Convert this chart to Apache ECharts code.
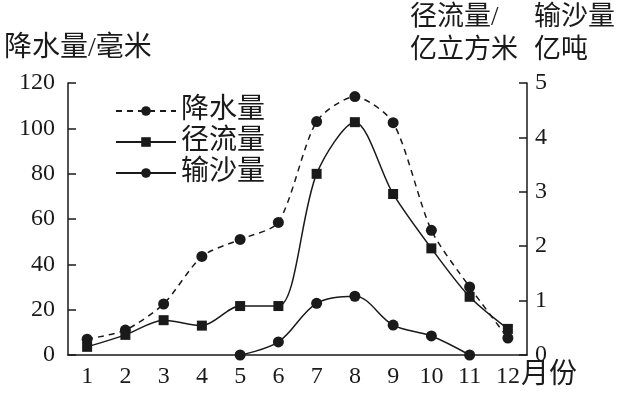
<!DOCTYPE html>
<html><head><meta charset="utf-8">
<script src="https://cdn.jsdelivr.net/npm/echarts@6/dist/echarts.min.js"></script>
<style>html,body{margin:0;padding:0;background:#fff}#c{width:621px;height:393px}</style>
</head><body><div id="c"></div>
<script>
const months = ['1','2','3','4','5','6','7','8','9','10','11','12'];
const precipitation = [7, 11, 22.5, 43.5, 51, 58.5, 103, 114, 102.5, 55, 30, 7.5];
const runoff = [0.15, 0.37, 0.64, 0.54, 0.9, 0.9, 3.33, 4.28, 2.96, 1.96, 1.07, 0.48];
const sediment = [null, null, null, null, 0, 0.24, 0.95, 1.08, 0.55, 0.35, 0, null];
const leftTicks = [0, 20, 40, 60, 80, 100, 120];
const rightTicks = [0, 1, 2, 3, 4, 5];

const FONT = '"Liberation Serif", "Noto Sans CJK SC", serif';
const INK = '#1a1a1a';
const chart = echarts.init(document.getElementById('c'), null, {renderer: 'canvas'});
chart.setOption({
  animation: false,
  backgroundColor: '#fff',
  textStyle: {fontFamily: FONT, color: INK},
  grid: {left: 68, right: 94, top: 83, bottom: 38},
  legend: {
    orient: 'vertical', left: 110, top: 92, itemGap: 3, itemWidth: 60, itemHeight: 12,
    textStyle: {fontSize: 28, color: INK, fontFamily: FONT},
    data: ['降水量', '径流量', '输沙量']
  },
  xAxis: {
    type: 'category', data: months, boundaryGap: true,
    axisLine: {lineStyle: {color: INK, width: 1.5}},
    axisTick: {inside: true, alignWithLabel: true, length: 8, lineStyle: {color: INK, width: 1.5}},
    axisLabel: {fontSize: 24, color: INK, fontFamily: FONT, margin: 10}
  },
  yAxis: [{
    type: 'value', min: 0, max: 120, interval: 20, position: 'left',
    axisLine: {show: true, lineStyle: {color: INK, width: 1.5}},
    axisTick: {show: true, inside: true, length: 8, lineStyle: {color: INK, width: 1.5}},
    axisLabel: {fontSize: 24, color: INK, fontFamily: FONT, margin: 13,
      formatter: v => leftTicks.includes(v) ? String(v) : ''},
    splitLine: {show: false}
  }, {
    type: 'value', min: 0, max: 5, interval: 1, position: 'right',
    axisLine: {show: true, lineStyle: {color: INK, width: 1.5}},
    axisTick: {show: true, inside: true, length: 8, lineStyle: {color: INK, width: 1.5}},
    axisLabel: {fontSize: 24, color: INK, fontFamily: FONT, margin: 8,
      formatter: v => rightTicks.includes(v) ? String(v) : ''},
    splitLine: {show: false}
  }],
  graphic: [
    {type: 'text', left: 4, top: 35, style: {text: '降水量/毫米', font: '28px ' + FONT, fill: INK}},
    {type: 'text', left: 410, top: 1, style: {text: '径流量/\n亿立方米', font: '27px ' + FONT, fill: INK, lineHeight: 33}},
    {type: 'text', left: 534, top: 1, style: {text: '输沙量\n亿吨', font: '27px ' + FONT, fill: INK, lineHeight: 33}},
    {type: 'text', left: 521, top: 362, style: {text: '月份', font: '28px ' + FONT, fill: INK}}
  ],
  series: [{
    name: '降水量', type: 'line', yAxisIndex: 0, data: precipitation, smooth: 0.25,
    symbol: 'circle', symbolSize: 11,
    lineStyle: {color: INK, width: 1.5, type: [6, 5]},
    itemStyle: {color: INK}
  }, {
    name: '径流量', type: 'line', yAxisIndex: 1, data: runoff, smooth: 0.3,
    symbol: 'rect', symbolSize: 10,
    lineStyle: {color: INK, width: 1.5},
    itemStyle: {color: INK}
  }, {
    name: '输沙量', type: 'line', yAxisIndex: 1, data: sediment, smooth: 0.35,
    symbol: 'circle', symbolSize: 11,
    lineStyle: {color: INK, width: 1.5},
    itemStyle: {color: INK}
  }]
});
</script></body></html>
